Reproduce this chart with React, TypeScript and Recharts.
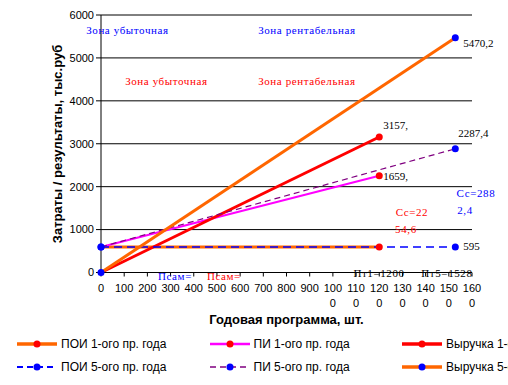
import React from "react";
import {
	LineChart,
	Line,
	XAxis,
	YAxis,
	CartesianGrid,
	ReferenceDot,
	LabelList,
} from "recharts";

// годовая программа, шт. (начало и конец каждой линии)
const programYear1 = [0, 1200];
const programYear5 = [0, 1528];

// затраты / результаты, тыс. руб
const poiYear1 = [595, 595];
const piYear1 = [595, 2254.6];
const revenueYear1 = [0, 3157];
const poiYear5 = [595, 595];
const piYear5 = [595, 2882.4];
const revenueYear5 = [0, 5470.2];

const xTicks = [0, 100, 200, 300, 400, 500, 600, 700, 800, 900, 1000, 1100, 1200, 1300, 1400, 1500, 1600];
const yTicks = [0, 1000, 2000, 3000, 4000, 5000, 6000];

const SANS = "'Liberation Sans', Arial, sans-serif";
const SERIF = "'Liberation Serif', 'Times New Roman', serif";

interface Series {
	key: string;
	name: string;
	xs: number[];
	ys: number[];
	color: string;
	width: number;
	dash?: string;
	marker: string;
	startMarker: boolean;
	endLabel: string;
	dx: number;
	dy: number;
}

// порядок отрисовки = порядок легенды
const series: Series[] = [
	{ key: "poi1", name: "ПОИ 1-ого пр. года", xs: programYear1, ys: poiYear1, color: "#FF6600", width: 3, marker: "#FF0000", startMarker: false, endLabel: "", dx: 0, dy: 0 },
	{ key: "pi1", name: "ПИ 1-ого пр. года", xs: programYear1, ys: piYear1, color: "#FF00FF", width: 2, marker: "#FF0000", startMarker: false, endLabel: "1659,", dx: 4, dy: 0 },
	{ key: "rev1", name: "Выручка 1-ого пр. года", xs: programYear1, ys: revenueYear1, color: "#FF0000", width: 3, marker: "#FF0000", startMarker: false, endLabel: "3157,", dx: 4, dy: -12 },
	{ key: "poi5", name: "ПОИ 5-ого пр. года", xs: programYear5, ys: poiYear5, color: "#0000FF", width: 1.5, dash: "8 5", marker: "#0000FF", startMarker: true, endLabel: "595", dx: 8, dy: -1 },
	{ key: "pi5", name: "ПИ 5-ого пр. года", xs: programYear5, ys: piYear5, color: "#800080", width: 1.2, dash: "6 4", marker: "#0000FF", startMarker: true, endLabel: "2287,4", dx: 3, dy: -16 },
	{ key: "rev5", name: "Выручка 5-ого пр. года", xs: programYear5, ys: revenueYear5, color: "#FF6600", width: 3, marker: "#0000FF", startMarker: true, endLabel: "5470,2", dx: 8, dy: 5 },
];

// подписи внутри области построения (в единицах осей)
const notes = [
	{ text: "Зона убыточная", color: "#0000FF", x: 114, y: 5650 },
	{ text: "Зона рентабельная", color: "#0000FF", x: 888, y: 5650 },
	{ text: "Зона убыточная", color: "#FF0000", x: 282, y: 4462 },
	{ text: "Зона рентабельная", color: "#FF0000", x: 888, y: 4462 },
	{ text: "Сс=288", color: "#0000FF", x: 1617, y: 1852 },
	{ text: "2,4", color: "#0000FF", x: 1570, y: 1456 },
	{ text: "Сс=22", color: "#FF0000", x: 1341, y: 1410 },
	{ text: "54,6", color: "#FF0000", x: 1315, y: 1014 },
	{ text: "Псам=", color: "#0000FF", x: 319, y: -82 },
	{ text: "Псам=", color: "#FF0000", x: 530, y: -82 },
	{ text: "Пт1=1200", color: "#000000", x: 1199, y: -12 },
	{ text: "Пт5=1528", color: "#000000", x: 1492, y: -12 },
];

function XTick({ x, y, payload }: any) {
	const s = String(payload.value);
	const lines = s.length > 3 ? [s.slice(0, 3), s.slice(3)] : [s];
	return (
		<text x={x} y={y} textAnchor="middle" fontSize={11} fontFamily={SANS} fill="#000">
			{lines.map((l, i) => (
				<tspan key={i} x={x} y={y + 13.5 + i * 15}>
					{l}
				</tspan>
			))}
		</text>
	);
}

const makeDot = (s: Series) => (p: any) => {
	if (p.index === 0 && !s.startMarker) return <g key={`${s.key}-d${p.index}`} />;
	return <circle key={`${s.key}-d${p.index}`} cx={p.cx} cy={p.cy} r={3.5} fill={s.marker} />;
};

const makeEndLabel = (s: Series) => (p: any) => {
	if (p.index !== s.ys.length - 1 || !s.endLabel) return null;
	return (
		<text
			x={Number(p.x) + s.dx}
			y={Number(p.y) + s.dy}
			dominantBaseline="central"
			fontSize={11}
			fontFamily={SERIF}
			fill="#000"
		>
			{s.endLabel}
		</text>
	);
};

function LegendIcon({ s }: { s: Series }) {
	return (
		<svg width={40} height={10} style={{ display: "block" }}>
			<line x1={0} y1={5} x2={40} y2={5} stroke={s.color} strokeWidth={s.width + 0.5} strokeDasharray={s.dash ? "6 4" : undefined} />
			<circle cx={20} cy={5} r={3.5} fill={s.marker} />
		</svg>
	);
}

export default function App() {
	return (
		<div style={{ position: "relative", width: 508, height: 385, overflow: "hidden", background: "#fff" }}>
			<style>{"body{margin:0}"}</style>
			<LineChart width={508} height={385} margin={{ top: 15, right: 36, bottom: 19.5, left: 0 }}>
				<CartesianGrid horizontal vertical={false} stroke="#000" strokeWidth={1} />
				<XAxis
					type="number"
					dataKey="x"
					domain={[0, 1600]}
					ticks={xTicks}
					interval={0}
					height={93}
					tickSize={4}
					tickMargin={2}
					stroke="#000"
					tick={<XTick />}
					allowDuplicatedCategory={false}
				/>
				<YAxis
					type="number"
					domain={[0, 6000]}
					ticks={yTicks}
					interval={0}
					width={101}
					tickSize={5}
					tickMargin={2}
					stroke="#000"
					tick={{ fill: "#000", fontSize: 11, fontFamily: SANS }}
				/>
				{series.map((s) => (
					<Line
						key={s.key}
						data={s.xs.map((x, i) => ({ x, y: s.ys[i] }))}
						dataKey="y"
						type="linear"
						stroke={s.color}
						strokeWidth={s.width}
						strokeDasharray={s.dash}
						dot={makeDot(s)}
						activeDot={false}
						isAnimationActive={false}
					>
						<LabelList dataKey="y" content={makeEndLabel(s)} />
					</Line>
				))}
				{notes.map((n, i) => (
					<ReferenceDot
						key={i}
						x={n.x}
						y={n.y}
						r={0}
						fill="none"
						stroke="none"
						ifOverflow="visible"
						label={{
							value: n.text,
							position: "center",
							fill: n.color,
							fontSize: 11,
							fontFamily: SERIF,
							letterSpacing: 0.6,
						}}
					/>
				))}
			</LineChart>

			<div
				style={{
					position: "absolute",
					left: 57,
					top: 143.75,
					transform: "translate(-50%, -50%) rotate(-90deg)",
					whiteSpace: "nowrap",
					font: `bold 13px ${SANS}`,
					lineHeight: "15px",
				}}
			>
				Затраты / результаты, тыс.руб
			</div>
			<div
				style={{
					position: "absolute",
					left: 286.5,
					top: 319,
					transform: "translate(-50%, -50%)",
					whiteSpace: "nowrap",
					font: `bold 13px ${SANS}`,
					lineHeight: "15px",
				}}
			>
				Годовая программа, шт.
			</div>

			{series.map((s, i) => (
				<div
					key={s.key}
					style={{
						position: "absolute",
						left: 17 + (i % 3) * 192.5,
						top: 344 + Math.floor(i / 3) * 23 - 8,
						height: 16,
						display: "flex",
						alignItems: "center",
						whiteSpace: "nowrap",
						font: `12px ${SANS}`,
					}}
				>
					<LegendIcon s={s} />
					<span style={{ marginLeft: 4 }}>{s.name}</span>
				</div>
			))}
		</div>
	);
}
